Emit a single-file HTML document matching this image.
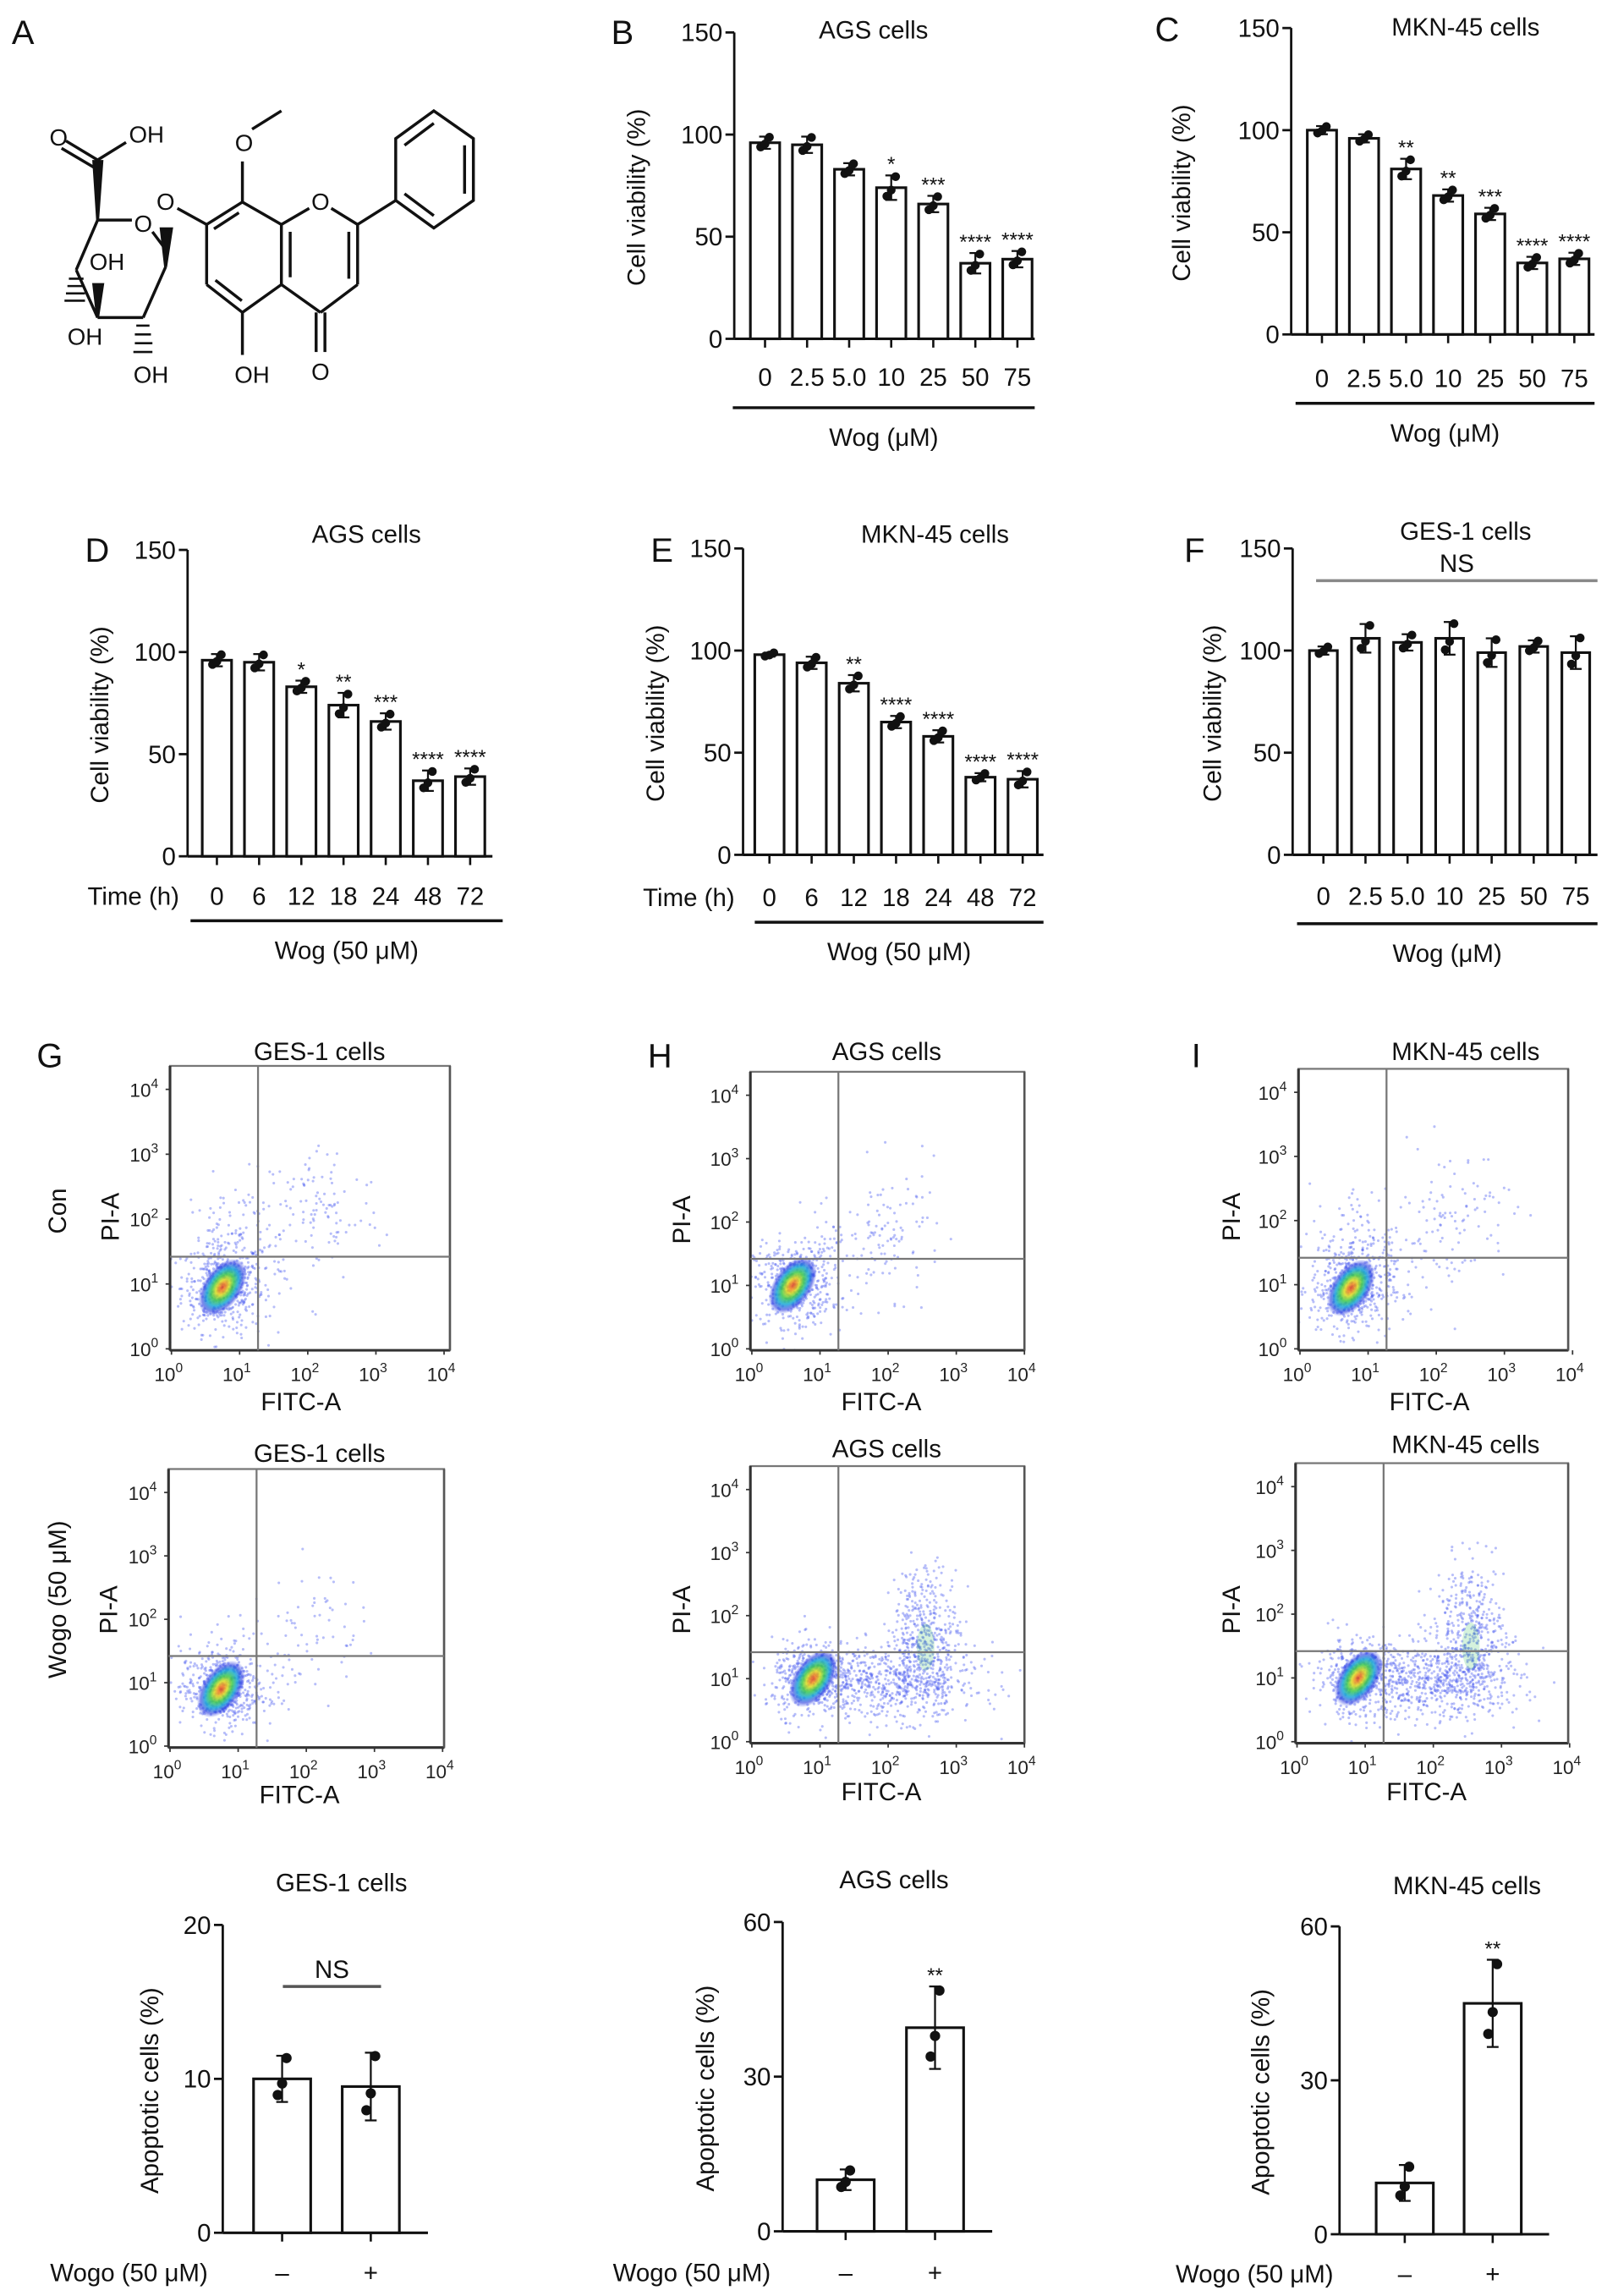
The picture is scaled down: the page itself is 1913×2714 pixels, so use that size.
<!DOCTYPE html>
<html><head><meta charset="utf-8">
<style>
html,body{margin:0;padding:0;background:#fff;}
svg{display:block;font-family:"Liberation Sans",Arial,sans-serif;}
</style></head>
<body>
<svg id="fig" width="1913" height="2714" viewBox="0 0 1104 1566" xmlns="http://www.w3.org/2000/svg">
<defs>
<radialGradient id="core" cx="50%" cy="50%" r="50%">
<stop offset="0" stop-color="#e0401c"/>
<stop offset="0.14" stop-color="#f08a1c"/>
<stop offset="0.28" stop-color="#d8dc20"/>
<stop offset="0.46" stop-color="#3cc84a"/>
<stop offset="0.66" stop-color="#1aa8d8"/>
<stop offset="0.85" stop-color="#2436e0" stop-opacity="0.7"/>
<stop offset="1" stop-color="#3a4ae8" stop-opacity="0"/>
</radialGradient>
</defs>

<g id="structure" stroke="#111" stroke-width="2" fill="none">
<polygon points="296,75.5 323,94.4 323,136.6 296,155.4 270,136.6 270,94.4"/>
<line x1="276" y1="99" x2="296" y2="84"/><line x1="317" y1="99" x2="317" y2="132"/><line x1="276" y1="132" x2="296" y2="147"/>
<line x1="244" y1="153" x2="270" y2="136.6"/>
<line x1="226" y1="142" x2="244" y2="153"/><line x1="244" y1="153" x2="244" y2="194"/><line x1="238" y1="158" x2="238" y2="190"/>
<line x1="244" y1="194" x2="218.7" y2="213"/><line x1="218.7" y1="213" x2="192" y2="194"/><line x1="192" y1="194" x2="192" y2="153"/><line x1="198" y1="189" x2="198" y2="158"/>
<line x1="192" y1="153" x2="211" y2="142"/>
<line x1="192" y1="153" x2="165.4" y2="137.7"/><line x1="165.4" y1="137.7" x2="141" y2="153"/><line x1="163" y1="145" x2="146" y2="156"/>
<line x1="141" y1="153" x2="141" y2="194"/><line x1="141" y1="194" x2="165.4" y2="213"/><line x1="147" y1="191" x2="165" y2="205"/>
<line x1="165.4" y1="213" x2="192" y2="194"/>
<line x1="215.7" y1="213" x2="215.7" y2="240"/><line x1="221.7" y1="213" x2="221.7" y2="240"/>
<line x1="165.4" y1="213" x2="165.4" y2="242"/>
<line x1="165.4" y1="137.7" x2="165.4" y2="110"/><line x1="172" y1="88" x2="192" y2="75.5"/>
<line x1="141" y1="153" x2="121" y2="142"/>
<line x1="66.6" y1="150" x2="90" y2="150"/><line x1="104" y1="158" x2="113" y2="170"/>
<polygon points="113,182 110,156 117,156" fill="#111"/>
<line x1="113" y1="182" x2="97.7" y2="216.5"/><line x1="97.7" y1="216.5" x2="66.6" y2="216.5"/>
<line x1="66.6" y1="216.5" x2="52" y2="184"/><line x1="52" y1="184" x2="66.6" y2="150"/>
<polygon points="66.6,150 64,110 69.5,110" fill="#111"/>
<line x1="66.6" y1="109" x2="45" y2="96"/><line x1="64" y1="114" x2="42" y2="101"/>
<line x1="66.6" y1="109" x2="86" y2="97"/>
<polygon points="66.6,216.5 64,194 70,194" fill="#111"/>
<g stroke-width="1.5"><line x1="47" y1="190" x2="57" y2="190"/><line x1="46" y1="195" x2="57" y2="195"/><line x1="45" y1="200" x2="58" y2="200"/><line x1="44" y1="205" x2="58" y2="205"/>
<line x1="93" y1="222" x2="102" y2="222"/><line x1="92" y1="228" x2="103" y2="228"/><line x1="92" y1="234" x2="104" y2="234"/><line x1="91" y1="240" x2="104" y2="240"/></g>
</g>
<g font-size="16" fill="#111">
<text x="218.7" y="143" text-anchor="middle">O</text>
<text x="218.7" y="259" text-anchor="middle">O</text>
<text x="172" y="261" text-anchor="middle">OH</text>
<text x="166.5" y="103" text-anchor="middle">O</text>
<text x="113" y="143" text-anchor="middle">O</text>
<text x="97.7" y="158" text-anchor="middle">O</text>
<text x="40" y="99" text-anchor="middle">O</text>
<text x="100" y="97" text-anchor="middle">OH</text>
<text x="73" y="184" text-anchor="middle">OH</text>
<text x="58" y="235" text-anchor="middle">OH</text>
<text x="103" y="261" text-anchor="middle">OH</text>
</g>

<g font-size="23" fill="#111">
<text x="8" y="30">A</text>
<text x="417" y="30">B</text>
<text x="788" y="28">C</text>
<text x="58" y="383">D</text>
<text x="444" y="383">E</text>
<text x="808" y="383">F</text>
<text x="25" y="728">G</text>
<text x="442" y="728">H</text>
<text x="813" y="728">I</text>
</g>
<g id="charts"></g>
</svg>
<script>
// ---- Chart data ----
const doseLabels = ['0','2.5','5.0','10','25','50','75'];
const timeLabels = ['0','6','12','18','24','48','72'];
const vTicks = [0,50,100,150];
const bValues = [96,95,83,74,66,37,39];
const bErr = [3,4,3,6,4,5,4];
const bStars = ['','','','*','***','****','****'];
const cValues = [100,96,81,68,59,35,37];
const cErr = [2,2,5,3,3,3,3];
const cStars = ['','','**','**','***','****','****'];
const dValues = [96,95,83,74,66,37,39];
const dErr = [3,4,3,6,4,5,4];
const dStars = ['','','*','**','***','****','****'];
const eValues = [98,94,84,65,58,38,37];
const eErr = [1,3,4,3,3,2,4];
const eStars = ['','','**','****','****','****','****'];
const fValues = [100,106,104,106,99,102,99];
const fErr = [2,7,4,8,7,3,8];
const apopLabels = ['–','+'];
const gesApop = [10,9.5];
const gesApopErr = [1.5,2.2];
const agsApop = [10,39.5];
const agsApopErr = [2,8];
const mknApop = [10,45];
const mknApopErr = [3.5,8.5];
const gesTicks = [0,10,20];
const apopTicks = [0,30,60];

const NS = 'http://www.w3.org/2000/svg';
const root = document.getElementById('charts');
function mk(tag, attrs, parent, text){
  const e = document.createElementNS(NS, tag);
  for (const k in attrs) e.setAttribute(k, attrs[k]);
  if (text !== undefined) e.textContent = text;
  (parent||root).appendChild(e);
  return e;
}

function barChart(cfg){
  const g = mk('g', {});
  
  
  const yMax = cfg.ticks[cfg.ticks.length-1];
  const ys = v => cfg.y0 - (v / yMax) * (cfg.y0 - cfg.yTop);
  const xs = i => cfg.first + i * cfg.step;
  const ya = mk('line', {x1:cfg.ax, y1:cfg.yTop, x2:cfg.ax, y2:cfg.y0, stroke:'#111','stroke-width':1.6}, g);
  
  
  cfg.ticks.forEach(t => {
    mk('line', {x1:cfg.ax-6, y1:ys(t), x2:cfg.ax, y2:ys(t), stroke:'#111','stroke-width':1.6}, g);
    const tl = mk('text', {x:cfg.ax-8, y:ys(t)+6, 'text-anchor':'end', 'font-size':cfg.fs||17, fill:'#111'}, g, String(t));
    
    
  });
  const xa = mk('line', {x1:cfg.ax, y1:cfg.y0, x2:cfg.xEnd, y2:cfg.y0, stroke:'#111','stroke-width':1.8}, g);
  
  
  const yl = mk('text', {x:0, y:0, transform:`translate(${cfg.ylx},${(cfg.y0+cfg.yTop)/2+8}) rotate(-90)`, 'text-anchor':'middle','font-size':cfg.ylfs||17, fill:'#111'}, g, cfg.ylabel);
  
  
  const tt = mk('text', {x:cfg.tx, y:cfg.ty, 'text-anchor':'middle','font-size':17, fill:'#111'}, g, cfg.title);
  
  
  cfg.values.forEach((v, i) => {
    const cx = xs(i);
    mk('line', {x1:cx, y1:cfg.y0, x2:cx, y2:cfg.y0+6, stroke:'#111','stroke-width':1.5}, g);
    const r = mk('rect', {x:cx-cfg.bw/2, y:ys(v), width:cfg.bw, height:cfg.y0-ys(v), fill:'#fff', stroke:'#111','stroke-width':1.8}, g);
    
    
    const e = cfg.err[i];
    mk('line', {x1:cx, y1:ys(v+e), x2:cx, y2:ys(v-e), stroke:'#111','stroke-width':1.3}, g);
    mk('line', {x1:cx-4, y1:ys(v+e), x2:cx+4, y2:ys(v+e), stroke:'#111','stroke-width':1.3}, g);
    mk('line', {x1:cx-4, y1:ys(v-e), x2:cx+4, y2:ys(v-e), stroke:'#111','stroke-width':1.3}, g);
    [-0.7, 0.9, -0.2].forEach((o, k) => {
      const dx = k === 0 ? -3 : (k === 1 ? 3 : 0);
      const p = mk('circle', {cx:cx+dx, cy:ys(v + o*e), r:cfg.dr||3, fill:'#111'}, g);
      
      
    });
    if (cfg.stars && cfg.stars[i]) {
      const s = mk('text', {x:cx, y:ys(v+e)-3, 'text-anchor':'middle','font-size':14, fill:'#111'}, g, cfg.stars[i]);
      
      
    }
    const xl = mk('text', {x:cx, y:cfg.xly, 'text-anchor':'middle','font-size':cfg.xfs||17, fill:'#111'}, g, cfg.labels[i]);
    
    
  });
  if (cfg.pre) {
    const pl = mk('text', {x:cfg.pre.x, y:cfg.xly, 'text-anchor':'middle','font-size':17, fill:'#111'}, g, cfg.pre.t);
    
    
  }
  if (cfg.under) {
    mk('line', {x1:cfg.under.x1, y1:cfg.under.y, x2:cfg.under.x2, y2:cfg.under.y, stroke:'#111','stroke-width':2}, g);
    const ul = mk('text', {x:(cfg.under.x1+cfg.under.x2)/2, y:cfg.under.y+26, 'text-anchor':'middle','font-size':17, fill:'#111'}, g, cfg.under.t);
    
    
  }
  if (cfg.ns) {
    mk('line', {x1:cfg.ns.x1, y1:cfg.ns.y, x2:cfg.ns.x2, y2:cfg.ns.y, stroke:cfg.ns.c||'#888','stroke-width':2}, g);
    const nt = mk('text', {x:(cfg.ns.x1+cfg.ns.x2)/2, y:cfg.ns.y-6, 'text-anchor':'middle','font-size':17, fill:'#111'}, g, 'NS');
    
    
  }
}

barChart({name:'chart-b-ags-dose', values:bValues, err:bErr, stars:bStars, labels:doseLabels, ticks:vTicks,
  ax:501, y0:231, yTop:22, first:522, step:28.7, bw:20, xEnd:706, ylx:440, ylabel:'Cell viability (%)',
  title:'AGS cells', tx:596, ty:26, xly:263, under:{x1:500,x2:706,y:278,t:'Wog (\u03bcM)'}});
barChart({name:'chart-c-mkn45-dose', values:cValues, err:cErr, stars:cStars, labels:doseLabels, ticks:vTicks,
  ax:881, y0:228, yTop:19, first:902, step:28.7, bw:20, xEnd:1088, ylx:812, ylabel:'Cell viability (%)',
  title:'MKN-45 cells', tx:1000, ty:24, xly:264, under:{x1:884,x2:1088,y:275,t:'Wog (\u03bcM)'}});
barChart({name:'chart-d-ags-time', values:dValues, err:dErr, stars:dStars, labels:timeLabels, ticks:vTicks,
  ax:128, y0:584, yTop:375, first:148, step:28.8, bw:20, xEnd:336, ylx:74, ylabel:'Cell viability (%)',
  title:'AGS cells', tx:250, ty:370, xly:617, pre:{x:91,t:'Time (h)'}, under:{x1:130,x2:343,y:628,t:'Wog (50 \u03bcM)'}});
barChart({name:'chart-e-mkn45-time', values:eValues, err:eErr, stars:eStars, labels:timeLabels, ticks:vTicks,
  ax:507, y0:583, yTop:374, first:525, step:28.8, bw:20, xEnd:712, ylx:453, ylabel:'Cell viability (%)',
  title:'MKN-45 cells', tx:638, ty:370, xly:618, pre:{x:470,t:'Time (h)'}, under:{x1:515,x2:712,y:629,t:'Wog (50 \u03bcM)'}});
barChart({name:'chart-f-ges1-dose', values:fValues, err:fErr, stars:null, labels:doseLabels, ticks:vTicks,
  ax:882, y0:583, yTop:374, first:903, step:28.7, bw:19, xEnd:1090, ylx:833, ylabel:'Cell viability (%)',
  title:'GES-1 cells', tx:1000, ty:368, xly:617, under:{x1:885,x2:1090,y:630,t:'Wog (\u03bcM)'},
  ns:{x1:898,x2:1090,y:396,c:'#888'}});

barChart({name:'chart-g-ges1-apoptosis', values:gesApop, err:gesApopErr, labels:apopLabels, ticks:gesTicks,
  ax:152, y0:1523, yTop:1313, first:192.5, step:60.5, bw:39, xEnd:292, ylx:108, ylabel:'Apoptotic cells (%)', dr:3.5,
  title:'GES-1 cells', tx:233, ty:1290, xly:1556, pre:{x:88,t:'Wogo (50 \u03bcM)'}, ns:{x1:193,x2:260,y:1355,c:'#555'}});
barChart({name:'chart-h-ags-apoptosis', values:agsApop, err:agsApopErr, stars:['','**'], labels:apopLabels, ticks:apopTicks,
  ax:534, y0:1522, yTop:1311, first:577, step:61, bw:39, xEnd:677, ylx:487, ylabel:'Apoptotic cells (%)', dr:3.5,
  title:'AGS cells', tx:610, ty:1288, xly:1556, pre:{x:472,t:'Wogo (50 \u03bcM)'}});
barChart({name:'chart-i-mkn45-apoptosis', values:mknApop, err:mknApopErr, stars:['','**'], labels:apopLabels, ticks:apopTicks,
  ax:914, y0:1524, yTop:1314, first:958.5, step:60, bw:39, xEnd:1057, ylx:866, ylabel:'Apoptotic cells (%)', dr:3.5,
  title:'MKN-45 cells', tx:1001, ty:1292, xly:1557, pre:{x:856,t:'Wogo (50 \u03bcM)'}});

// ---- Flow cytometry (cluster descriptions in log-decade units: x, y, sx, sy, count) ----
const conClusters = [[0.75,0.95,0.3,0.35,420],[1.0,1.5,0.45,0.55,160],[2.2,2.1,0.45,0.55,100]];
const agsConClusters = [[0.6,1.0,0.28,0.32,420],[1.2,1.3,0.45,0.45,110],[2.1,1.9,0.35,0.5,80]];
const gesWogoClusters = [[0.75,0.9,0.3,0.32,460],[1.3,1.2,0.5,0.4,80],[2.1,2.0,0.35,0.45,50]];
const apopClusters = [[0.9,1.0,0.3,0.3,380],[2.0,0.95,0.65,0.3,650],[2.55,1.7,0.25,0.55,420]];
const decadeLabels = ['0','1','2','3','4'];

let seed = 12345;
function rnd(){ seed = (seed * 1103515245 + 12345) % 2147483648; return seed / 2147483648; }
function gauss(){ const u = rnd()||1e-6, v = rnd(); return Math.sqrt(-2*Math.log(u))*Math.cos(2*Math.PI*v); }

function flow(cfg){
  const g = mk('g', {});
  
  
  const {x, y, w, h} = cfg;
  const dx = 46.5, dy = (h-17)/4;
  const px = u => x + 1 + u*dx;
  const py = u => y + h - 1 - u*dy;
  const clipId = cfg.name + '-clip';
  const cp = mk('clipPath', {id:clipId}, g);
  mk('rect', {x:x, y:y, width:w, height:h}, cp);
  const dots = mk('g', {'clip-path':`url(#${clipId})`}, g);
  
  
  cfg.clusters.forEach(c => {
    for (let i=0;i<c[4];i++){
      mk('circle', {cx:px(c[0]+gauss()*c[2]), cy:py(c[1]+gauss()*c[3]), r:0.9, fill:'#4a5cf0', 'fill-opacity':0.4}, dots);
    }
  });
  const core = cfg.clusters[0];
  const cx = px(core[0]), cy = py(core[1]);
  const ce = mk('ellipse', {cx:cx, cy:cy, rx:13, ry:22, fill:'url(#core)', 'fill-opacity':0.85, transform:`rotate(35 ${cx} ${cy})`}, dots);
  
  
  if (cfg.hot2) {
    mk('ellipse', {cx:px(2.55), cy:py(1.5), rx:6, ry:16, fill:'#2fc050', 'fill-opacity':0.2}, dots);
  }
  const box = mk('rect', {x:x, y:y, width:w, height:h, fill:'none', stroke:'#777','stroke-width':1.3}, g);
  
  
  mk('line', {x1:x, y1:y, x2:x, y2:y+h, stroke:'#333','stroke-width':1.8}, g);
  mk('line', {x1:x, y1:y+h, x2:x+w, y2:y+h, stroke:'#333','stroke-width':1.8}, g);
  mk('line', {x1:x+w, y1:y, x2:x+w, y2:y+h, stroke:'#555','stroke-width':1.5}, g);
  mk('line', {x1:px(1.27), y1:y, x2:px(1.27), y2:y+h, stroke:'#777','stroke-width':1.3}, g);
  mk('line', {x1:x, y1:py(1.42), x2:x+w, y2:py(1.42), stroke:'#777','stroke-width':1.3}, g);
  decadeLabels.forEach((d,i) => {
    const a = mk('text', {x:px(i)-2, y:y+h+21, 'text-anchor':'middle','font-size':13, fill:'#222'}, g, '10');
    mk('tspan', {dy:-6, 'font-size':9}, a, d);
    
    
    const b = mk('text', {x:x-8, y:py(i)+5, 'text-anchor':'end','font-size':13, fill:'#222'}, g, '10');
    mk('tspan', {dy:-6, 'font-size':9}, b, d);
    
    
    mk('line', {x1:px(i), y1:y+h, x2:px(i), y2:y+h+3, stroke:'#333'}, g);
    mk('line', {x1:x-3, y1:py(i), x2:x, y2:py(i), stroke:'#333'}, g);
  });
  const xl = mk('text', {x:px(1.9), y:cfg.fy, 'text-anchor':'middle','font-size':17, fill:'#111'}, g, 'FITC-A');
  
  
  const yl = mk('text', {x:0, y:0, transform:`translate(${cfg.ylx},${cfg.yly}) rotate(-90)`, 'text-anchor':'middle','font-size':17, fill:'#111'}, g, 'PI-A');
  
  
  const t = mk('text', {x:cfg.tx, y:cfg.ty, 'text-anchor':'middle','font-size':17, fill:'#111'}, g, cfg.title);
  
  
}
flow({name:'flow-ges1-con', x:116,y:727,w:191,h:194, clusters:conClusters, ylx:81, yly:830, tx:218, ty:723, fy:962, title:'GES-1 cells'});
flow({name:'flow-ags-con', x:512,y:731,w:187,h:190, clusters:agsConClusters, ylx:471, yly:832, tx:605, ty:723, fy:962, title:'AGS cells'});
flow({name:'flow-mkn45-con', x:886,y:729,w:184,h:192, clusters:conClusters, ylx:846, yly:830, tx:1000, ty:723, fy:962, title:'MKN-45 cells'});
flow({name:'flow-ges1-wogo', x:115,y:1002,w:188,h:190, clusters:gesWogoClusters, ylx:80, yly:1098, tx:218, ty:997, fy:1230, title:'GES-1 cells'});
flow({name:'flow-ags-wogo', x:512,y:1000,w:187,h:189, clusters:apopClusters, hot2:true, ylx:471, yly:1098, tx:605, ty:994, fy:1228, title:'AGS cells'});
flow({name:'flow-mkn45-wogo', x:884,y:998,w:186,h:191, clusters:apopClusters, hot2:true, ylx:846, yly:1098, tx:1000, ty:991, fy:1228, title:'MKN-45 cells'});

const r1 = mk('text', {x:0, y:0, transform:'translate(45,826) rotate(-90)', 'text-anchor':'middle','font-size':17, fill:'#111'}, root, 'Con');


const r2 = mk('text', {x:0, y:0, transform:'translate(45,1091) rotate(-90)', 'text-anchor':'middle','font-size':17, fill:'#111'}, root, 'Wogo (50 \u03bcM)');


</script>
</body></html>
